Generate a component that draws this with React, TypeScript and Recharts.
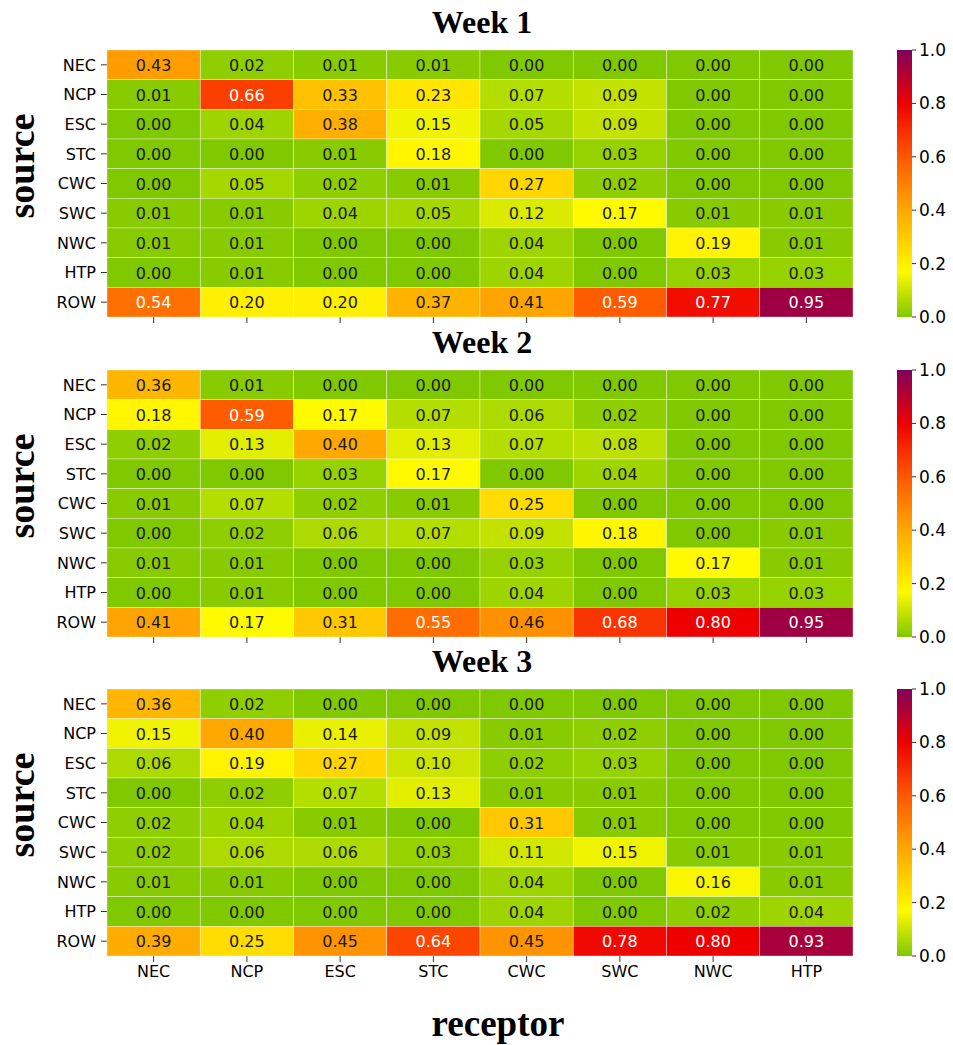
import React from 'react';
import { ScatterChart, Scatter, XAxis, YAxis, BarChart, Bar } from 'recharts';

const receptors = ['NEC', 'NCP', 'ESC', 'STC', 'CWC', 'SWC', 'NWC', 'HTP'];
const sources = ['NEC', 'NCP', 'ESC', 'STC', 'CWC', 'SWC', 'NWC', 'HTP', 'ROW'];
const weeks = ['Week 1', 'Week 2', 'Week 3'];

const week1 = [
  [0.43, 0.02, 0.01, 0.01, 0.0, 0.0, 0.0, 0.0],
  [0.01, 0.66, 0.33, 0.23, 0.07, 0.09, 0.0, 0.0],
  [0.0, 0.04, 0.38, 0.15, 0.05, 0.09, 0.0, 0.0],
  [0.0, 0.0, 0.01, 0.18, 0.0, 0.03, 0.0, 0.0],
  [0.0, 0.05, 0.02, 0.01, 0.27, 0.02, 0.0, 0.0],
  [0.01, 0.01, 0.04, 0.05, 0.12, 0.17, 0.01, 0.01],
  [0.01, 0.01, 0.0, 0.0, 0.04, 0.0, 0.19, 0.01],
  [0.0, 0.01, 0.0, 0.0, 0.04, 0.0, 0.03, 0.03],
  [0.54, 0.2, 0.2, 0.37, 0.41, 0.59, 0.77, 0.95],
];

const week2 = [
  [0.36, 0.01, 0.0, 0.0, 0.0, 0.0, 0.0, 0.0],
  [0.18, 0.59, 0.17, 0.07, 0.06, 0.02, 0.0, 0.0],
  [0.02, 0.13, 0.4, 0.13, 0.07, 0.08, 0.0, 0.0],
  [0.0, 0.0, 0.03, 0.17, 0.0, 0.04, 0.0, 0.0],
  [0.01, 0.07, 0.02, 0.01, 0.25, 0.0, 0.0, 0.0],
  [0.0, 0.02, 0.06, 0.07, 0.09, 0.18, 0.0, 0.01],
  [0.01, 0.01, 0.0, 0.0, 0.03, 0.0, 0.17, 0.01],
  [0.0, 0.01, 0.0, 0.0, 0.04, 0.0, 0.03, 0.03],
  [0.41, 0.17, 0.31, 0.55, 0.46, 0.68, 0.8, 0.95],
];

const week3 = [
  [0.36, 0.02, 0.0, 0.0, 0.0, 0.0, 0.0, 0.0],
  [0.15, 0.4, 0.14, 0.09, 0.01, 0.02, 0.0, 0.0],
  [0.06, 0.19, 0.27, 0.1, 0.02, 0.03, 0.0, 0.0],
  [0.0, 0.02, 0.07, 0.13, 0.01, 0.01, 0.0, 0.0],
  [0.02, 0.04, 0.01, 0.0, 0.31, 0.01, 0.0, 0.0],
  [0.02, 0.06, 0.06, 0.03, 0.11, 0.15, 0.01, 0.01],
  [0.01, 0.01, 0.0, 0.0, 0.04, 0.0, 0.16, 0.01],
  [0.0, 0.0, 0.0, 0.0, 0.04, 0.0, 0.02, 0.04],
  [0.39, 0.25, 0.45, 0.64, 0.45, 0.78, 0.8, 0.93],
];

const matrices = [week1, week2, week3];
const cbarTicks = [0, 0.2, 0.4, 0.6, 0.8, 1.0];

// colormap stops (green -> yellow -> orange -> red -> purple)
const cmap: [number, number[]][] = [
  [0.0, [128, 200, 0]],
  [0.17, [255, 250, 0]],
  [0.4, [255, 168, 0]],
  [0.6, [255, 88, 0]],
  [0.8, [238, 0, 0]],
  [1.0, [130, 0, 90]],
];

const colorOf = (v: number) => {
  for (let i = 1; i < cmap.length; i++) {
    const [t1, c1] = cmap[i];
    const [t0, c0] = cmap[i - 1];
    if (v <= t1) {
      const f = (v - t0) / (t1 - t0);
      const c = c0.map((a, k) => Math.round(a + (c1[k] - a) * f));
      return `rgb(${c[0]},${c[1]},${c[2]})`;
    }
  }
  return 'rgb(130,0,90)';
};

const W = 953;
const PLOT_L = 107;
const PLOT_R = 853;
const PLOT_H = 267;
const TOP = 50;
const CW = (PLOT_R - PLOT_L) / receptors.length;
const CH = PLOT_H / sources.length;
const OFFSETS = [0, 320, 639];

const sans = 'DejaVu Sans, sans-serif';
const serif = 'Liberation Serif, Times New Roman, serif';

const toPoints = (m: number[][]) =>
  m.flatMap((row, r) => row.map((v, c) => ({ x: c + 0.5, y: r + 0.5, v })));

const HeatCell = (props: any) => {
  const { cx, cy, payload } = props;
  const v = payload.v as number;
  return (
    <g>
      <rect
        x={cx - CW / 2}
        y={cy - CH / 2}
        width={CW}
        height={CH}
        fill={colorOf(v)}
        stroke="#ffffff"
        strokeWidth={0.6}
        strokeOpacity={0.6}
      />
      <text
        x={cx}
        y={cy}
        dy={6}
        textAnchor="middle"
        fontFamily={sans}
        fontSize={16}
        fill={v > 0.5 ? '#ffffff' : '#1a1a1a'}
      >
        {v.toFixed(2)}
      </text>
    </g>
  );
};

function Heatmap({ idx }: { idx: number }) {
  const data = toPoints(matrices[idx]);
  const showX = idx === matrices.length - 1;
  return (
    <div style={{ position: 'absolute', left: 0, top: OFFSETS[idx] }}>
      <ScatterChart width={W} height={TOP + PLOT_H + 36} margin={{ top: TOP, right: W - PLOT_R, bottom: 0, left: PLOT_L - 60 }}>
        <XAxis
          type="number"
          dataKey="x"
          domain={[0, receptors.length]}
          ticks={receptors.map((_, i) => i + 0.5)}
          tickFormatter={(v: number) => (showX ? receptors[Math.floor(v)] : '')}
          axisLine={false}
          tickSize={6}
          tickMargin={4}
          height={36}
          interval={0}
          tickLine={{ stroke: '#333' }}
          tick={{ fontFamily: sans, fontSize: 16, fill: '#000' }}
        />
        <YAxis
          type="number"
          dataKey="y"
          domain={[0, sources.length]}
          reversed
          ticks={sources.map((_, i) => i + 0.5)}
          tickFormatter={(v: number) => sources[Math.floor(v)]}
          axisLine={false}
          tickSize={6}
          tickMargin={5}
          width={60}
          interval={0}
          tickLine={{ stroke: '#333' }}
          tick={{ fontFamily: sans, fontSize: 16, fill: '#000' }}
        />
        <Scatter data={data} shape={HeatCell} isAnimationActive={false} />
      </ScatterChart>
    </div>
  );
}

function ColorBar({ idx }: { idx: number }) {
  const gid = `cbGrad${idx}`;
  return (
    <div style={{ position: 'absolute', left: 897, top: OFFSETS[idx] }}>
      <BarChart
        width={56}
        height={TOP + PLOT_H + 14}
        data={[{ name: 'cb', top: 1 }]}
        margin={{ top: TOP, right: 0, bottom: 14, left: 0 }}
        barCategoryGap={0}
      >
        <defs>
          <linearGradient id={gid} x1="0" y1="1" x2="0" y2="0">
            {cmap.map(([t]) => (
              <stop key={t} offset={`${t * 100}%`} stopColor={colorOf(t)} />
            ))}
          </linearGradient>
        </defs>
        <XAxis dataKey="name" hide />
        <YAxis
          orientation="right"
          type="number"
          domain={[0, 1]}
          ticks={cbarTicks}
          tickFormatter={(v: number) => v.toFixed(1)}
          axisLine={false}
          tickSize={4}
          tickMargin={3}
          width={41}
          interval={0}
          tickLine={{ stroke: '#333' }}
          tick={{ fontFamily: sans, fontSize: 17, fill: '#000' }}
        />
        <Bar dataKey="top" fill={`url(#${gid})`} isAnimationActive={false} />
      </BarChart>
    </div>
  );
}

export default function App() {
  return (
    <div style={{ position: 'absolute', left: 0, top: 0, width: W, height: 1045, background: '#fff' }}>
      {weeks.map((_, i) => (
        <React.Fragment key={i}>
          <Heatmap idx={i} />
          <ColorBar idx={i} />
        </React.Fragment>
      ))}
      <svg width={W} height={1045} style={{ position: 'absolute', left: 0, top: 0, pointerEvents: 'none' }}>
        {weeks.map((w, i) => (
          <g key={w}>
            <text x={482} y={33 + OFFSETS[i]} textAnchor="middle" fontFamily={serif} fontWeight="bold" fontSize={32} fill="#000">
              {w}
            </text>
            <text
              transform={`translate(34, ${166 + OFFSETS[i]}) rotate(-90)`}
              textAnchor="middle"
              fontFamily={serif}
              fontWeight="bold"
              fontSize={38}
              fill="#000"
            >
              source
            </text>
          </g>
        ))}
        <text x={498} y={1036} textAnchor="middle" fontFamily={serif} fontWeight="bold" fontSize={37} fill="#000">
          receptor
        </text>
      </svg>
    </div>
  );
}
